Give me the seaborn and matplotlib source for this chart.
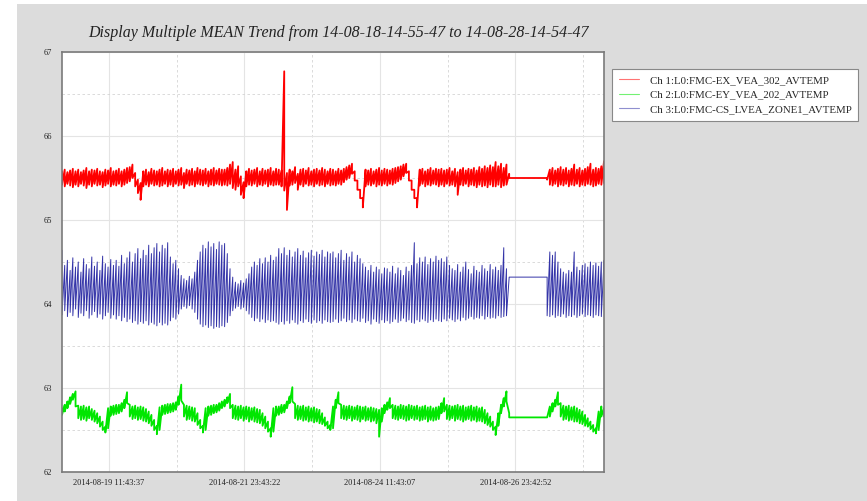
import numpy as np
import pandas as pd
import seaborn as sns
import matplotlib.pyplot as plt
import matplotlib.dates as mdates
from matplotlib.patches import Rectangle
from matplotlib.ticker import MultipleLocator, FixedLocator, FormatStrFormatter

# ------------------------------
# Data
# min / max of each trace in 0.05-day bins
# ------------------------------
start = pd.Timestamp("2014-08-18 14:55:47")
end = pd.Timestamp("2014-08-28 14:54:47")

channels = [
    "Ch 1:L0:FMC-EX_VEA_302_AVTEMP",
    "Ch 2:L0:FMC-EY_VEA_202_AVTEMP",
    "Ch 3:L0:FMC-CS_LVEA_ZONE1_AVTEMP",
]

# bins for days 0.00 .. 8.25 (before the data gap)
red_hi = [
    65.58, 65.60, 65.57, 65.59, 65.61, 65.58, 65.60, 65.57, 65.59, 65.62, 65.58, 65.60, 65.59, 65.61, 65.58, 65.57, 65.60, 65.59, 65.62, 65.58,
    65.59, 65.61, 65.58, 65.60, 65.62, 65.63, 65.66, 65.56, 65.48, 65.44, 65.58, 65.60, 65.57, 65.61, 65.59, 65.58, 65.60, 65.62, 65.58, 65.60,
    65.59, 65.61, 65.58, 65.60, 65.62, 65.56, 65.60, 65.59, 65.61, 65.58, 65.62, 65.60, 65.59, 65.61, 65.58, 65.60, 65.62, 65.59, 65.61, 65.60,
    65.60, 65.62, 65.66, 65.69, 65.60, 65.64, 65.52, 65.45, 65.58, 65.61, 65.59, 65.60, 65.62, 65.58, 65.61, 65.59, 65.60, 65.62, 65.58, 65.61,
    65.60, 65.59, 66.77, 65.56, 65.60, 65.58, 65.63, 65.55, 65.60, 65.61, 65.59, 65.62, 65.58, 65.60, 65.61, 65.59, 65.62, 65.60, 65.58, 65.61,
    65.60, 65.58, 65.61, 65.59, 65.61, 65.63, 65.65, 65.67, 65.58, 65.47, 65.36, 65.26, 65.60, 65.59, 65.61, 65.58, 65.60, 65.62, 65.59, 65.61,
    65.60, 65.59, 65.61, 65.62, 65.63, 65.64, 65.66, 65.67, 65.58, 65.47, 65.36, 65.26, 65.60, 65.61, 65.58, 65.60, 65.62, 65.59, 65.61, 65.60,
    65.61, 65.59, 65.60, 65.62, 65.58, 65.61, 65.57, 65.60, 65.62, 65.59, 65.61, 65.60, 65.62, 65.59, 65.63, 65.61, 65.64, 65.62, 65.65, 65.63,
    65.69, 65.64, 65.67, 65.62, 65.66, 65.55,
]
red_lo = [
    65.42, 65.40, 65.43, 65.41, 65.39, 65.42, 65.40, 65.43, 65.41, 65.38, 65.42, 65.40, 65.43, 65.41, 65.42, 65.39, 65.41, 65.43, 65.40, 65.42,
    65.41, 65.43, 65.40, 65.42, 65.44, 65.46, 65.50, 65.40, 65.32, 65.24, 65.40, 65.42, 65.40, 65.43, 65.41, 65.42, 65.40, 65.41, 65.43, 65.40,
    65.42, 65.40, 65.43, 65.41, 65.42, 65.38, 65.43, 65.41, 65.42, 65.40, 65.43, 65.42, 65.41, 65.43, 65.40, 65.42, 65.41, 65.43, 65.42, 65.41,
    65.42, 65.41, 65.43, 65.38, 65.36, 65.40, 65.30, 65.26, 65.40, 65.42, 65.41, 65.43, 65.40, 65.42, 65.41, 65.43, 65.40, 65.42, 65.41, 65.42,
    65.42, 65.40, 65.35, 65.12, 65.41, 65.42, 65.44, 65.36, 65.42, 65.40, 65.43, 65.41, 65.42, 65.40, 65.43, 65.41, 65.42, 65.40, 65.43, 65.41,
    65.42, 65.41, 65.43, 65.42, 65.45, 65.48, 65.50, 65.55, 65.47, 65.36, 65.26, 65.15, 65.40, 65.42, 65.41, 65.43, 65.40, 65.42, 65.41, 65.43,
    65.41, 65.43, 65.42, 65.44, 65.46, 65.48, 65.52, 65.56, 65.47, 65.36, 65.26, 65.15, 65.41, 65.43, 65.40, 65.42, 65.41, 65.43, 65.42, 65.40,
    65.42, 65.40, 65.43, 65.41, 65.42, 65.40, 65.30, 65.42, 65.41, 65.43, 65.40, 65.42, 65.41, 65.39, 65.42, 65.40, 65.41, 65.39, 65.42, 65.40,
    65.40, 65.42, 65.39, 65.41, 65.42, 65.50,
]
green_hi = [
    62.76, 62.80, 62.84, 62.89, 62.93, 62.96, 62.79, 62.78, 62.79, 62.77, 62.78, 62.75, 62.73, 62.70, 62.66, 62.60, 62.54, 62.76, 62.78, 62.79,
    62.80, 62.80, 62.82, 62.86, 62.95, 62.80, 62.78, 62.79, 62.77, 62.78, 62.77, 62.75, 62.72, 62.68, 62.62, 62.55, 62.77, 62.79, 62.80, 62.81,
    62.81, 62.82, 62.83, 62.90, 63.04, 62.80, 62.79, 62.78, 62.77, 62.76, 62.70, 62.62, 62.55, 62.76, 62.78, 62.79, 62.80, 62.80, 62.82, 62.84,
    62.86, 62.89, 62.93, 62.80, 62.79, 62.78, 62.79, 62.77, 62.78, 62.77, 62.76, 62.77, 62.75, 62.74, 62.70, 62.66, 62.60, 62.52, 62.76, 62.78,
    62.78, 62.80, 62.80, 62.84, 62.90, 63.01, 62.81, 62.79, 62.78, 62.79, 62.77, 62.78, 62.76, 62.77, 62.75, 62.74, 62.70, 62.65, 62.60, 62.56,
    62.78, 62.86, 62.95, 62.80, 62.79, 62.78, 62.79, 62.78, 62.77, 62.79, 62.78, 62.77, 62.78, 62.76, 62.77, 62.76, 62.75, 62.74, 62.76, 62.80,
    62.83, 62.88, 62.80, 62.79, 62.78, 62.80, 62.79, 62.78, 62.80, 62.79, 62.78, 62.79, 62.77, 62.78, 62.79, 62.77, 62.78, 62.76, 62.77, 62.78,
    62.82, 62.88, 62.80, 62.79, 62.78, 62.79, 62.80, 62.78, 62.79, 62.77, 62.78, 62.79, 62.77, 62.78, 62.76, 62.77, 62.74, 62.70, 62.66, 62.60,
    62.54, 62.70, 62.80, 62.88, 62.96, 62.70,
]
green_lo = [
    62.68, 62.72, 62.76, 62.81, 62.86, 62.78, 62.64, 62.62, 62.63, 62.61, 62.64, 62.62, 62.60, 62.58, 62.54, 62.50, 62.47, 62.52, 62.67, 62.68,
    62.69, 62.70, 62.72, 62.76, 62.82, 62.66, 62.63, 62.64, 62.62, 62.63, 62.61, 62.60, 62.58, 62.55, 62.50, 62.45, 62.50, 62.68, 62.69, 62.70,
    62.71, 62.72, 62.74, 62.80, 62.85, 62.66, 62.62, 62.63, 62.61, 62.60, 62.56, 62.52, 62.47, 62.50, 62.67, 62.68, 62.70, 62.71, 62.73, 62.76,
    62.78, 62.82, 62.76, 62.64, 62.63, 62.62, 62.64, 62.61, 62.63, 62.60, 62.62, 62.60, 62.59, 62.58, 62.55, 62.52, 62.48, 62.42, 62.48, 62.67,
    62.68, 62.70, 62.71, 62.76, 62.82, 62.84, 62.64, 62.62, 62.63, 62.61, 62.62, 62.60, 62.61, 62.59, 62.60, 62.58, 62.57, 62.55, 62.52, 62.50,
    62.52, 62.76, 62.82, 62.64, 62.63, 62.62, 62.64, 62.61, 62.63, 62.62, 62.60, 62.63, 62.61, 62.62, 62.60, 62.61, 62.58, 62.42, 62.60, 62.70,
    62.74, 62.76, 62.64, 62.63, 62.62, 62.64, 62.63, 62.61, 62.62, 62.64, 62.62, 62.63, 62.61, 62.62, 62.63, 62.60, 62.62, 62.61, 62.62, 62.63,
    62.70, 62.72, 62.63, 62.62, 62.64, 62.61, 62.63, 62.62, 62.60, 62.62, 62.63, 62.61, 62.62, 62.60, 62.61, 62.60, 62.58, 62.56, 62.54, 62.50,
    62.44, 62.55, 62.70, 62.78, 62.84, 62.65,
]
blue_hi = [
    64.64, 64.46, 64.52, 64.40, 64.55, 64.44, 64.50, 64.38, 64.54, 64.47, 64.42, 64.56, 64.45, 64.50, 64.40, 64.57, 64.48, 64.44, 64.53, 64.46,
    64.52, 64.45, 64.58, 64.48, 64.55, 64.62, 64.50, 64.60, 64.66, 64.54, 64.64, 64.58, 64.70, 64.60, 64.67, 64.72, 64.62, 64.70, 64.66, 64.73,
    64.56, 64.48, 64.52, 64.42, 64.34, 64.30, 64.28, 64.33, 64.30, 64.38, 64.52, 64.62, 64.70, 64.66, 64.74, 64.68, 64.72, 64.65, 64.74, 64.70,
    64.72, 64.60, 64.42, 64.32, 64.26, 64.24, 64.28, 64.25, 64.30, 64.36, 64.44, 64.50, 64.46, 64.54, 64.48, 64.55, 64.50, 64.58, 64.52, 64.56,
    64.66, 64.60, 64.67, 64.58, 64.64, 64.56, 64.62, 64.66, 64.58, 64.63, 64.55, 64.61, 64.64, 64.57, 64.62, 64.59, 64.64, 64.56, 64.62, 64.60,
    64.62, 64.55, 64.60, 64.64, 64.52, 64.60, 64.56, 64.62, 64.50, 64.58, 64.54, 64.48, 64.44, 64.40, 64.46, 64.38, 64.44, 64.41, 64.36, 64.43,
    64.42, 64.38, 64.45, 64.36, 64.43, 64.40, 64.34, 64.44, 64.39, 64.46, 64.73, 64.48, 64.55, 64.50, 64.56, 64.47, 64.54, 64.50, 64.57, 64.52,
    64.54, 64.50, 64.56, 64.46, 64.42, 64.40, 64.47, 64.38, 64.44, 64.50, 64.41, 64.36, 64.45, 64.40, 64.38, 64.46, 64.42, 64.39, 64.47, 64.41,
    64.44, 64.40, 64.46, 64.67, 64.42, 64.32,
]
blue_lo = [
    63.87, 63.92, 63.85, 63.90, 63.86, 63.94, 63.84, 63.89, 63.86, 63.92, 63.83, 63.87, 63.91, 63.84, 63.88, 63.82, 63.86, 63.90, 63.83, 63.87,
    63.82, 63.86, 63.80, 63.84, 63.79, 63.82, 63.78, 63.80, 63.76, 63.79, 63.77, 63.80, 63.75, 63.78, 63.76, 63.74, 63.78, 63.75, 63.77, 63.75,
    63.80, 63.84, 63.82, 63.88, 63.94, 63.97, 63.95, 63.98, 63.94, 63.90, 63.82, 63.76, 63.73, 63.75, 63.72, 63.74, 63.71, 63.73, 63.72, 63.74,
    63.73, 63.78, 63.86, 63.92, 63.95, 63.97, 63.94, 63.96, 63.92, 63.88, 63.84, 63.80, 63.83, 63.79, 63.82, 63.78, 63.81, 63.79, 63.80, 63.78,
    63.76, 63.79, 63.76, 63.80, 63.77, 63.81, 63.78, 63.76, 63.80, 63.78, 63.82, 63.79, 63.77, 63.81, 63.78, 63.80, 63.77, 63.81, 63.79, 63.78,
    63.79, 63.82, 63.78, 63.80, 63.83, 63.79, 63.81, 63.78, 63.82, 63.80, 63.79, 63.83, 63.78, 63.80, 63.76, 63.82, 63.79, 63.77, 63.81, 63.78,
    63.80, 63.77, 63.79, 63.82, 63.78, 63.80, 63.83, 63.79, 63.81, 63.78, 63.77, 63.81, 63.79, 63.82, 63.80, 63.78, 63.81, 63.79, 63.82, 63.80,
    63.79, 63.82, 63.80, 63.83, 63.81, 63.79, 63.82, 63.80, 63.84, 63.81, 63.83, 63.85, 63.82, 63.84, 63.83, 63.86, 63.82, 63.85, 63.83, 63.84,
    63.83, 63.86, 63.84, 63.85, 63.86, 64.32,
]

# bins for days 8.95 .. 10.00 (after the data gap)
red_hi_b = [65.50, 65.60, 65.62, 65.59, 65.61, 65.63, 65.60, 65.62, 65.59, 65.61, 65.66,
            65.60, 65.62, 65.59, 65.61, 65.63, 65.67, 65.60, 65.62, 65.61, 65.64, 65.70]
red_lo_b = [65.48, 65.42, 65.41, 65.43, 65.40, 65.42, 65.41, 65.43, 65.40, 65.42, 65.41,
            65.43, 65.40, 65.42, 65.41, 65.43, 65.42, 65.40, 65.41, 65.43, 65.42, 65.44]
green_hi_b = [62.65, 62.78, 62.82, 62.86, 62.95, 62.82, 62.79, 62.78, 62.79, 62.77, 62.78,
              62.76, 62.74, 62.72, 62.68, 62.64, 62.60, 62.56, 62.52, 62.72, 62.78, 62.76]
green_lo_b = [62.65, 62.66, 62.72, 62.78, 62.80, 62.66, 62.62, 62.63, 62.61, 62.62, 62.60,
              62.60, 62.58, 62.57, 62.55, 62.54, 62.51, 62.48, 62.46, 62.50, 62.66, 62.66]
blue_hi_b = [64.32, 64.62, 64.58, 64.62, 64.50, 64.42, 64.38, 64.36, 64.40, 64.38, 64.62,
             64.44, 64.40, 64.46, 64.48, 64.44, 64.50, 64.46, 64.49, 64.45, 64.50, 64.52]
blue_lo_b = [63.86, 63.85, 63.87, 63.84, 63.86, 63.85, 63.88, 63.84, 63.86, 63.85, 63.87,
             63.84, 63.86, 63.88, 63.85, 63.87, 63.86, 63.84, 63.87, 63.86, 63.85, 64.40]

tick_times = ["2014-08-19 11:43:37", "2014-08-21 23:43:22",
              "2014-08-24 11:43:07", "2014-08-26 23:42:52"]

# ------------------------------
# Build long table (max then min in every bin)
# ------------------------------
days = np.concatenate([np.arange(len(red_hi)) * 0.05,
                       8.95 + np.arange(len(red_hi_b)) * 0.05])
times = start + pd.to_timedelta(days, unit="D")

frames = []
series = [
    (red_hi + red_hi_b, red_lo + red_lo_b),
    (green_hi + green_hi_b, green_lo + green_lo_b),
    (blue_hi + blue_hi_b, blue_lo + blue_lo_b),
]
for name, (hi, lo) in zip(channels, series):
    vals = np.column_stack([hi, lo]).ravel()
    frames.append(pd.DataFrame({"time": np.repeat(times, 2), "value": vals, "channel": name}))
df = pd.concat(frames, ignore_index=True)

palette = {channels[0]: "#ff0000", channels[1]: "#00e600", channels[2]: "#3434a8"}
widths = [1.3, 1.3, 0.7]

# ------------------------------
# Plot
# ------------------------------
sns.set_style("white")
plt.rcParams["font.family"] = ["Liberation Serif", "DejaVu Serif"]

fig = plt.figure(figsize=(8.67, 5.01), dpi=100, facecolor="white")
fig.patches.append(Rectangle((17 / 867, 0), 1 - 17 / 867, 1 - 4 / 501,
                             transform=fig.transFigure, facecolor="#dcdcdc",
                             edgecolor="none", zorder=-10))
ax = fig.add_axes([62 / 867, 29 / 501, 542 / 867, 420 / 501])

sns.lineplot(data=df, x="time", y="value", hue="channel", palette=palette,
             estimator=None, sort=False, lw=0.7, ax=ax)
for line, w in zip(ax.get_lines()[:3], widths):
    line.set_linewidth(w)

ax.set_xlim(start, end)
ax.set_ylim(62, 67)
ax.set_xlabel("")
ax.set_ylabel("")

ticks = pd.to_datetime(tick_times)
ax.set_xticks(ticks)
ax.set_xticklabels(tick_times)
minor = [ticks[i] + (ticks[i + 1] - ticks[i]) / 2 for i in range(len(ticks) - 1)]
minor.append(ticks[-1] + (ticks[1] - ticks[0]) / 2)
ax.xaxis.set_minor_locator(FixedLocator(mdates.date2num(minor)))
ax.yaxis.set_major_locator(MultipleLocator(1))
ax.yaxis.set_minor_locator(MultipleLocator(0.5))
ax.yaxis.set_major_formatter(FormatStrFormatter("%d"))

ax.grid(which="major", color="#e4e4e4", lw=0.8, ls="-")
ax.grid(which="minor", color="#d4d4d4", lw=0.6, ls=(0, (3, 3)))
ax.set_axisbelow(True)
ax.tick_params(which="both", length=0, labelsize=6, colors="#222222")
ax.tick_params(axis="x", pad=5)
ax.tick_params(axis="y", pad=7)
for s in ax.spines.values():
    s.set_color("#7a7a7a")
    s.set_linewidth(1.2)

fig.text(0.39, 0.934, "Display Multiple MEAN Trend from 14-08-18-14-55-47 to 14-08-28-14-54-47",
         ha="center", va="center", fontsize=11.5, fontstyle="italic", color="#222222")

handles, labels = ax.get_legend_handles_labels()
leg = ax.legend(handles, labels, loc="upper left",
                bbox_to_anchor=(612 / 867, 1 - 69 / 501), bbox_transform=fig.transFigure,
                borderaxespad=0, frameon=True, fancybox=False, edgecolor="#888888",
                fontsize=7.8, handlelength=1.9, handletextpad=1.0, borderpad=0.6,
                labelspacing=0.45, framealpha=1)
leg.get_frame().set_linewidth(0.8)
for line in leg.get_lines():
    line.set_linewidth(0.8)
    line.set_alpha(0.55)

fig.savefig("out.png", dpi=100, facecolor=fig.get_facecolor())
